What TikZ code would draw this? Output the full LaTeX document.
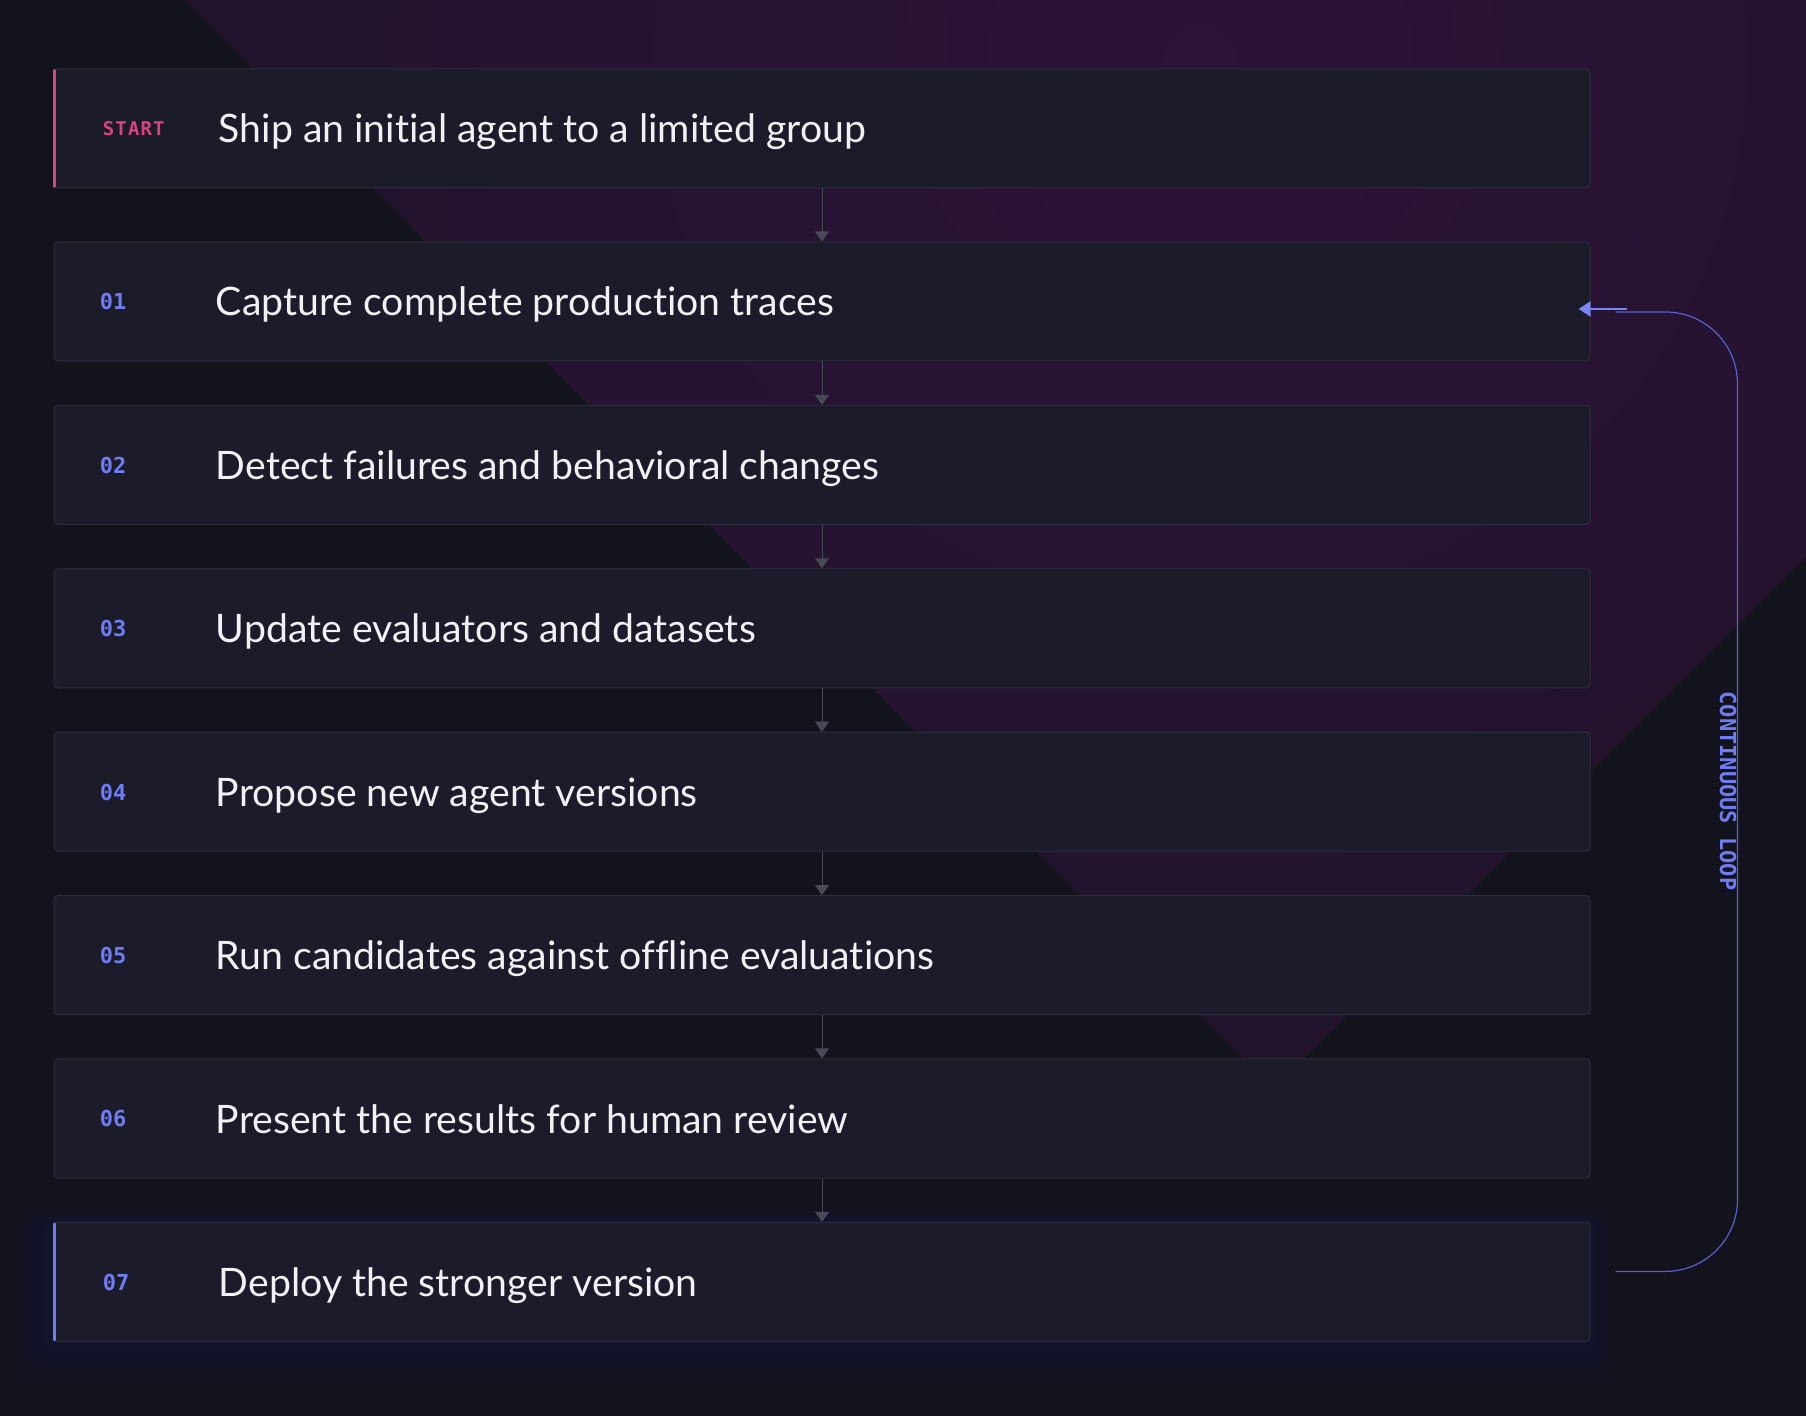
\documentclass[tikz,border=0pt]{standalone}
\usepackage{fontspec}
\setmainfont{Lato}[Ligatures=NoCommon]
\newfontfamily\monofont{DejaVu Sans Mono}
\usetikzlibrary{positioning,calc,arrows.meta,backgrounds}
\definecolor{bgc}{HTML}{13131E}
\definecolor{glowa}{HTML}{2D1239}
\definecolor{glowm}{HTML}{21142B}
\definecolor{glowb}{HTML}{16141F}
\definecolor{boxc}{HTML}{1B1B29}
\definecolor{edgec}{HTML}{2D2D3E}
\definecolor{flowc}{HTML}{4A4A56}
\definecolor{pinkc}{HTML}{D6457D}
\definecolor{bluec}{HTML}{6F7CF2}
\definecolor{loopc}{HTML}{5A5FD0}
\definecolor{tipc}{HTML}{7B85F8}
\definecolor{textc}{HTML}{F1F1F6}
\definecolor{haloc}{HTML}{2A3A9C}
\pgfdeclareradialshading{purpleglow}{\pgfpoint{0bp}{0bp}}{color(0bp)=(glowa); color(25bp)=(glowm); color(50bp)=(glowb)}

\begin{document}
\begin{tikzpicture}[x=0.5pt,y=-0.5pt,node distance=21.7pt,
        stepbox/.style={draw=edgec,fill=boxc,line width=0.5pt,rounded corners=2pt,minimum width=768pt,minimum height=59.5pt,inner sep=0pt},
        tag/.style={anchor=base west,inner sep=0pt,text=bluec,font=\monofont\bfseries\fontsize{11}{11}\selectfont},
        steptext/.style={anchor=base west,inner sep=0pt,text=textc,font=\fontsize{19.6}{21}\selectfont},
        flow/.style={draw=flowc,line width=0.5pt,-{Triangle[width=7pt,length=5pt]}},
        accent/.style={line width=1.5pt,line cap=round}]
        \useasboundingbox (0,0) rectangle (1806,1416);

        \node (s0) [stepbox] at (822,128.5) {};
        \node (s1) [stepbox,below=26.5pt of s0] {};
        \node (s2) [stepbox,below=of s1] {};
        \node (s3) [stepbox,below=of s2] {};
        \node (s4) [stepbox,below=of s3] {};
        \node (s5) [stepbox,below=of s4] {};
        \node (s6) [stepbox,below=of s5] {};
        \node (s7) [stepbox,below=of s6] {};

        \draw[accent,pinkc] ([xshift=0.5pt,yshift=-1pt]s0.north west) -- ([xshift=0.5pt,yshift=1pt]s0.south west);
        \draw[accent,bluec] ([xshift=0.5pt,yshift=-1pt]s7.north west) -- ([xshift=0.5pt,yshift=1pt]s7.south west);

        \node (t0) [tag,text=pinkc,font=\monofont\bfseries\fontsize{9.5}{10}\selectfont\addfontfeatures{LetterSpace=6}] at ($(s0.west)+(49,7.5)$) {START};
        \node (t1) [tag] at ($(s1.west)+(46,8.5)$) {01};
        \node (t2) [tag] at ($(s2.west)+(46,8.5)$) {02};
        \node (t3) [tag] at ($(s3.west)+(46,8.5)$) {03};
        \node (t4) [tag] at ($(s4.west)+(46,8.5)$) {04};
        \node (t5) [tag] at ($(s5.west)+(46,8.5)$) {05};
        \node (t6) [tag] at ($(s6.west)+(46,8.5)$) {06};
        \node (t7) [tag] at ($(s7.west)+(49,8.5)$) {07};

        \node (x0) [steptext] at ($(s0.west)+(165,14.5)$) {Ship an initial agent to a limited group};
        \node (x1) [steptext] at ($(s1.west)+(162,14.5)$) {Capture complete production traces};
        \node (x2) [steptext] at ($(s2.west)+(162,14.5)$) {Detect failures and behavioral changes};
        \node (x3) [steptext] at ($(s3.west)+(162,14.5)$) {Update evaluators and datasets};
        \node (x4) [steptext] at ($(s4.west)+(162,14.5)$) {Propose new agent versions};
        \node (x5) [steptext] at ($(s5.west)+(162,14.5)$) {Run candidates against offline evaluations};
        \node (x6) [steptext] at ($(s6.west)+(162,14.5)$) {Present the results for human review};
        \node (x7) [steptext] at ($(s7.west)+(165,14.5)$) {Deploy the stronger version};

        \draw[flow] (s0) -- (s1);
        \draw[flow] (s1) -- (s2);
        \draw[flow] (s2) -- (s3);
        \draw[flow] (s3) -- (s4);
        \draw[flow] (s4) -- (s5);
        \draw[flow] (s5) -- (s6);
        \draw[flow] (s6) -- (s7);

        \coordinate (lb) at ($(s7.east)+(25,-10.5)$);
        \coordinate (lt) at ($(s1.east)+(25,10.5)$);
        \draw[loopc,line width=0.6pt,rounded corners=36pt] (lb) -| ($(lt)+(122,0)$) -- (lt);
        \draw[tipc,line width=1pt,-{Triangle[width=7.5pt,length=6pt]}] ($(s1.east)+(36,7.5)$) -- ($(s1.east)+(-12,7.5)$);
        \node (lbl) [rotate=-90,anchor=base,inner sep=0pt,text=bluec,font=\monofont\bfseries\fontsize{11}{11}\selectfont] at (1720,791) {CONTINUOUS LOOP};

        \begin{scope}[on background layer]
        \fill[bgc] (0,0) rectangle (1806,1416);
        \begin{scope}
        \clip (1273,1089) -- (-27,-211) -- (2573,-211) -- cycle;
        \fill[glowb] (1273,1089) -- (-27,-211) -- (2573,-211) -- cycle;
        \shade[shading=purpleglow] (1200,60) circle (1020);
        \end{scope}
        \foreach \g in {1,...,14}
          \fill[haloc,opacity=0.012,rounded corners=8pt] ($(s7.south west)+(-3*\g,3*\g)$) rectangle ($(s7.north east)+(1.5*\g,-1*\g)$);
        \end{scope}
\end{tikzpicture}
\end{document}
